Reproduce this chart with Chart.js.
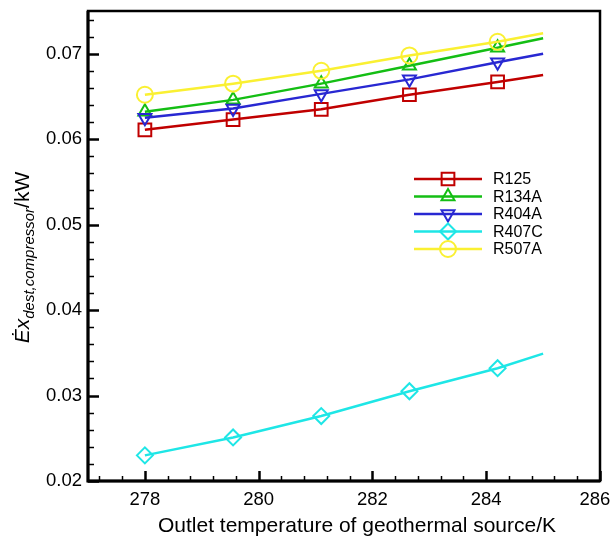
<!DOCTYPE html>
<html><head><meta charset="utf-8">
<script src="https://cdn.jsdelivr.net/npm/chart.js@4/dist/chart.umd.min.js"></script>
<style>html,body{margin:0;padding:0;background:#fff}#wrap{width:611px;height:539px;position:relative}</style>
</head><body><div id="wrap"><canvas id="c" width="611" height="539"></canvas></div>
<script>
// ---- data ----
const temperatures = [278, 279.55, 281.1, 282.65, 284.2, 285];
const r125  = [0.0611, 0.0623, 0.0635, 0.0652, 0.0667, 0.0675];
const r134a = [0.0632, 0.0646, 0.0665, 0.0686, 0.0707, 0.0718];
const r404a = [0.0625, 0.0636, 0.0653, 0.0670, 0.0690, 0.0700];
const r407c = [0.0230, 0.0251, 0.0276, 0.0305, 0.0332, 0.0349];
const r507a = [0.0652, 0.0665, 0.0680, 0.0698, 0.0714, 0.0724];
const seriesNames = ['R125', 'R134A', 'R404A', 'R407C', 'R507A'];
const xTickValues = [278, 280, 282, 284, 286];
const yTickValues = [0.02, 0.03, 0.04, 0.05, 0.06, 0.07];
const xLabel = 'Outlet temperature of geothermal source/K';

const styles = [
  {color: 'rgb(192,0,0)',   pointStyle: 'rect',     radius: 9,   rotation: 0},
  {color: 'rgb(20,190,20)', pointStyle: 'triangle', radius: 7.5, rotation: 0},
  {color: 'rgb(40,40,210)', pointStyle: 'triangle', radius: 7.5, rotation: 180},
  {color: 'rgb(30,230,230)',pointStyle: 'rectRot',  radius: 8,   rotation: 0},
  {color: 'rgb(250,240,50)',pointStyle: 'circle',   radius: 8,   rotation: 0}
];
const allValues = [r125, r134a, r404a, r407c, r507a];

const datasets = allValues.map((vals, i) => ({
  label: seriesNames[i],
  data: temperatures.map((t, j) => ({x: t, y: vals[j]})),
  borderColor: styles[i].color,
  borderWidth: 2.5,
  pointStyle: styles[i].pointStyle,
  pointRotation: styles[i].rotation,
  pointRadius: temperatures.map((t, j) => j < temperatures.length - 1 ? styles[i].radius : 0),
  pointBorderWidth: 2,
  pointBorderColor: styles[i].color,
  pointBackgroundColor: 'rgba(0,0,0,0)',
  tension: 0,
  fill: false,
  order: 5 - i
}));

const FONT = '"Liberation Sans", Arial, Helvetica, sans-serif';

const decor = {
  id: 'decor',
  afterDraw(chart) {
    const ctx = chart.ctx;
    const a = chart.chartArea;
    const xs = chart.scales.x, ys = chart.scales.y;
    ctx.save();
    ctx.strokeStyle = '#000';
    for (let k = 0; k <= 22; k++) {
      const v = 277.2 + k * 0.4;
      const major = Math.abs(v / 2 - Math.round(v / 2)) < 1e-6;
      const px = Math.round(xs.getPixelForValue(v)) + 0.5;
      ctx.lineWidth = major ? 2.5 : 1.5;
      ctx.beginPath(); ctx.moveTo(px, a.bottom); ctx.lineTo(px, a.bottom - (major ? 10 : 5)); ctx.stroke();
    }
    for (let k = 0; k <= 27; k++) {
      const v = 0.02 + k * 0.002;
      const major = k % 5 === 0;
      const py = Math.round(ys.getPixelForValue(v)) + 0.5;
      ctx.lineWidth = major ? 2.5 : 1.5;
      ctx.beginPath(); ctx.moveTo(a.left, py); ctx.lineTo(a.left + (major ? 11 : 6), py); ctx.stroke();
    }
    ctx.lineWidth = 2.5;
    ctx.strokeRect(a.left, a.top, a.right - a.left, a.bottom - a.top);
    ctx.lineWidth = 3;
    ctx.beginPath(); ctx.moveTo(a.left, a.top); ctx.lineTo(a.left, a.bottom); ctx.lineTo(a.right, a.bottom); ctx.stroke();

    ctx.fillStyle = '#000';
    ctx.font = '21px ' + FONT;
    ctx.textAlign = 'center';
    ctx.textBaseline = 'alphabetic';
    ctx.fillText(xLabel, 357, 532);

    ctx.save();
    ctx.translate(29, 257.5);
    ctx.rotate(-Math.PI / 2);
    ctx.textAlign = 'left';
    const parts = [
      {t: '\u0116x', f: 'italic 21px ' + FONT, dy: 0},
      {t: 'dest,compressor', f: 'italic 15px ' + FONT, dy: 5},
      {t: '/kW', f: '21px ' + FONT, dy: 0}
    ];
    let total = 0;
    parts.forEach(p => { ctx.font = p.f; p.w = ctx.measureText(p.t).width; total += p.w; });
    let x0 = -total / 2;
    parts.forEach(p => { ctx.font = p.f; ctx.fillText(p.t, x0, p.dy); x0 += p.w; });
    ctx.restore();

    const lx1 = 414, lx2 = 482, mx = 448, tx = 493;
    const rowsY = [179, 196.5, 214, 231.5, 249];
    ctx.font = '16px ' + FONT;
    ctx.textAlign = 'left';
    ctx.textBaseline = 'middle';
    seriesNames.forEach((name, i) => {
      const y = rowsY[i];
      const s = styles[i];
      ctx.strokeStyle = s.color;
      ctx.lineWidth = 2.5;
      ctx.beginPath(); ctx.moveTo(lx1, y); ctx.lineTo(lx2, y); ctx.stroke();
      ctx.lineWidth = 2;
      ctx.fillStyle = 'rgba(0,0,0,0)';
      Chart.helpers.drawPoint(ctx, {pointStyle: s.pointStyle, radius: s.radius, rotation: s.rotation, borderWidth: 2}, mx, y);
      ctx.fillStyle = '#000';
      ctx.fillText(name, tx, y + 1);
    });
    ctx.restore();
  }
};

new Chart(document.getElementById('c'), {
  type: 'line',
  data: {datasets},
  options: {
    responsive: false,
    animation: false,
    layout: {padding: {left: 0, right: 9, top: 10, bottom: 0}},
    plugins: {legend: {display: false}, tooltip: {enabled: false}},
    scales: {
      x: {
        type: 'linear', min: 277, max: 286,
        afterBuildTicks: s => { s.ticks = xTickValues.map(v => ({value: v})); },
        afterFit: s => { s.height = 58; s.paddingLeft = 0; s.paddingRight = 0; },
        grid: {display: false, drawTicks: false},
        border: {display: false},
        ticks: {color: '#000', font: {family: FONT, size: 18.5}, padding: 8, maxRotation: 0,
                callback: v => v === 286 ? '286  ' : String(v)}
      },
      y: {
        type: 'linear', min: 0.02, max: 0.075,
        afterBuildTicks: s => { s.ticks = yTickValues.map(v => ({value: v})); },
        afterFit: s => { s.width = 88; s.paddingTop = 0; s.paddingBottom = 0; },
        grid: {display: false, drawTicks: false},
        border: {display: false},
        ticks: {color: '#000', font: {family: FONT, size: 18.5}, padding: 6,
                callback: v => Number(v).toFixed(2)}
      }
    }
  },
  plugins: [decor]
});
</script></body></html>
